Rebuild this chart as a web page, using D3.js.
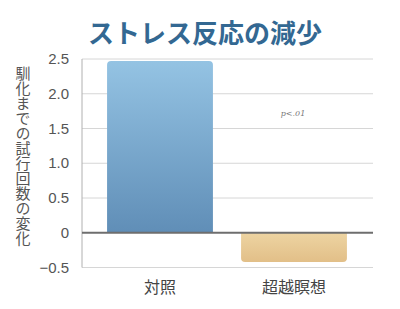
<!DOCTYPE html>
<html>
<head>
<meta charset="utf-8">
<script src="https://cdn.jsdelivr.net/npm/d3@7"></script>
<style>
  html, body { margin: 0; padding: 0; background: #fff; }
  svg { display: block; }
</style>
</head>
<body>
<svg id="chart" width="400" height="309"></svg>
<script>
// --- data ---
const categories = ["対照", "超越瞑想"];
const values = [2.47, -0.42];
const yTicks = [-0.5, 0, 0.5, 1.0, 1.5, 2.0, 2.5];
const titleText = "ストレス反応の減少";
const yLabel = "馴化までの試行回数の変化";
const note = "p<.01";

const svg = d3.select("#chart");
const left = 82, right = 373;

const y = d3.scaleLinear().domain([-0.5, 2.5]).range([267.5, 59]);
const x = d3.scaleBand()
    .domain(categories)
    .range([93, 361])
    .paddingInner(0.21)
    .paddingOuter(0.105);

// gradients
const defs = svg.append("defs");
const gradBlue = defs.append("linearGradient").attr("id", "gBlue")
    .attr("x1", 0).attr("y1", 0).attr("x2", 0).attr("y2", 1);
gradBlue.append("stop").attr("offset", "0%").attr("stop-color", "#94c3e3");
gradBlue.append("stop").attr("offset", "100%").attr("stop-color", "#608eb7");
const gradTan = defs.append("linearGradient").attr("id", "gTan")
    .attr("x1", 0).attr("y1", 0).attr("x2", 0).attr("y2", 1);
gradTan.append("stop").attr("offset", "0%").attr("stop-color", "#edd4a2");
gradTan.append("stop").attr("offset", "100%").attr("stop-color", "#e2bf88");

// title
svg.append("text")
    .attr("x", 205).attr("y", 43)
    .attr("text-anchor", "middle")
    .attr("font-family", "'Noto Sans CJK JP', sans-serif")
    .attr("font-weight", "bold")
    .attr("font-size", 26)
    .attr("fill", "#336892")
    .text(titleText);

// gridlines
svg.append("g")
    .selectAll("line")
    .data(yTicks.filter(d => d !== 0))
    .join("line")
    .attr("x1", left).attr("x2", right)
    .attr("y1", d => y(d)).attr("y2", d => y(d))
    .attr("stroke", "#d6d6d6")
    .attr("stroke-width", 1);

// y axis line
svg.append("line")
    .attr("x1", left).attr("x2", left)
    .attr("y1", y(2.5)).attr("y2", y(-0.5))
    .attr("stroke", "#b0b0b0");

// bars
const fills = ["url(#gBlue)", "url(#gTan)"];
svg.append("g")
    .selectAll("path")
    .data(categories)
    .join("path")
    .attr("fill", (d, i) => fills[i])
    .attr("d", (d, i) => {
        const x0 = x(d), w = x.bandwidth(), r = 4;
        const y0 = y(0), y1 = y(values[i]);
        const dir = values[i] >= 0 ? 1 : -1;
        const p = d3.path();
        p.moveTo(x0, y0);
        p.lineTo(x0, y1 + dir * r);
        p.quadraticCurveTo(x0, y1, x0 + r, y1);
        p.lineTo(x0 + w - r, y1);
        p.quadraticCurveTo(x0 + w, y1, x0 + w, y1 + dir * r);
        p.lineTo(x0 + w, y0);
        p.closePath();
        return p.toString();
    });

// zero line
svg.append("line")
    .attr("x1", left).attr("x2", right)
    .attr("y1", y(0)).attr("y2", y(0))
    .attr("stroke", "#6e6e6e")
    .attr("stroke-width", 2);

// y tick labels
svg.append("g")
    .selectAll("text")
    .data(yTicks)
    .join("text")
    .attr("x", 69)
    .attr("y", d => y(d) + 5)
    .attr("text-anchor", "end")
    .attr("font-family", "Arial, 'Liberation Sans', sans-serif")
    .attr("font-size", 15)
    .attr("fill", "#555")
    .text(d => d === 0 ? "0" : d3.format(".1f")(d));

// x labels
svg.append("g")
    .selectAll("text")
    .data(categories)
    .join("text")
    .attr("x", d => x(d) + x.bandwidth() / 2)
    .attr("y", 293)
    .attr("text-anchor", "middle")
    .attr("font-family", "'Noto Sans CJK JP', sans-serif")
    .attr("font-size", 16)
    .attr("fill", "#444")
    .text(d => d);

// y axis title (vertical)
svg.append("text")
    .attr("x", 23).attr("y", 156)
    .attr("text-anchor", "middle")
    .attr("font-family", "'Noto Sans CJK JP', sans-serif")
    .attr("font-size", 15)
    .attr("fill", "#555")
    .style("writing-mode", "vertical-rl")
    .style("text-orientation", "upright")
    .text(yLabel);

// significance note
svg.append("text")
    .attr("x", 293).attr("y", 116)
    .attr("text-anchor", "middle")
    .attr("font-family", "'DejaVu Serif', serif")
    .attr("font-style", "italic")
    .attr("font-size", 8)
    .attr("fill", "#777")
    .text(note);
</script>
</body>
</html>
